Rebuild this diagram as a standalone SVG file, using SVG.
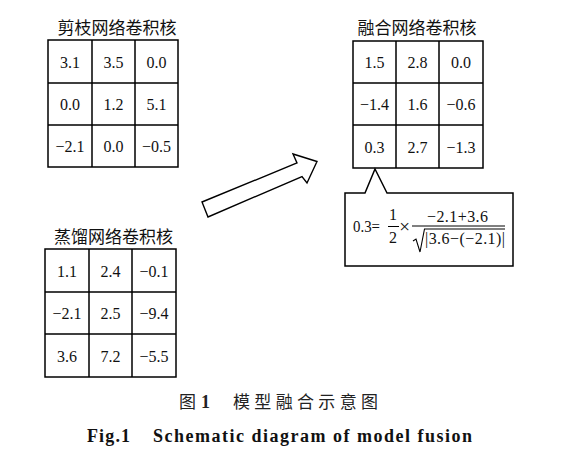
<svg xmlns="http://www.w3.org/2000/svg" width="563" height="459" viewBox="0 0 563 459">
<style>
.grid{fill:none;stroke:#000;stroke-width:1.5}
.num{font-family:"Liberation Serif","Times New Roman",serif;font-size:16px;fill:#111;text-anchor:middle}
.title{font-family:"Noto Sans CJK SC","Noto Sans CJK JP",sans-serif;font-size:17px;fill:#111;text-anchor:middle}
.f{font-family:"Liberation Serif","Times New Roman",serif;font-size:16px;fill:#111}
.cap{font-family:"Noto Sans CJK SC",sans-serif;font-size:17px;fill:#222}
.en{font-family:"Liberation Serif","Times New Roman",serif;font-size:18px;font-weight:bold;fill:#111}
</style>
<rect width="563" height="459" fill="#fff"/>
<g id="pruned">
<text class="title" x="117" y="34">剪枝网络卷积核</text>
<rect class="grid" x="48" y="40" width="130" height="127"/>
<path class="grid" d="M92,40V167M135,40V167M48,83H178M48,125H178"/>
<text class="num" x="70" y="67.5">3.1</text><text class="num" x="113.5" y="67.5">3.5</text><text class="num" x="156.5" y="67.5">0.0</text>
<text class="num" x="70" y="110">0.0</text><text class="num" x="113.5" y="110">1.2</text><text class="num" x="156.5" y="110">5.1</text>
<text class="num" x="70" y="152">−2.1</text><text class="num" x="113.5" y="152">0.0</text><text class="num" x="156.5" y="152">−0.5</text>
</g>
<g id="fused">
<text class="title" x="417" y="34">融合网络卷积核</text>
<rect class="grid" x="353" y="41" width="130" height="127"/>
<path class="grid" d="M396,41V168M439,41V168M353,83H483M353,125H483"/>
<text class="num" x="374.5" y="68">1.5</text><text class="num" x="417.5" y="68">2.8</text><text class="num" x="461" y="68">0.0</text>
<text class="num" x="374.5" y="110">−1.4</text><text class="num" x="417.5" y="110">1.6</text><text class="num" x="461" y="110">−0.6</text>
<text class="num" x="374.5" y="152.5">0.3</text><text class="num" x="417.5" y="152.5">2.7</text><text class="num" x="461" y="152.5">−1.3</text>
</g>
<g id="distilled">
<text class="title" x="113.5" y="243">蒸馏网络卷积核</text>
<rect class="grid" x="45" y="249" width="131" height="128"/>
<path class="grid" d="M89,249V377M132,249V377M45,292H176M45,334H176"/>
<text class="num" x="67" y="276.5">1.1</text><text class="num" x="110.5" y="276.5">2.4</text><text class="num" x="154" y="276.5">−0.1</text>
<text class="num" x="67" y="319">−2.1</text><text class="num" x="110.5" y="319">2.5</text><text class="num" x="154" y="319">−9.4</text>
<text class="num" x="67" y="361.5">3.6</text><text class="num" x="110.5" y="361.5">7.2</text><text class="num" x="154" y="361.5">−5.5</text>
</g>
<g id="connectors">
<polygon points="202,202 297,163 293,154 317,161.5 307,183 302,176.5 208,217" fill="#fff" stroke="#000" stroke-width="1.4" stroke-linejoin="miter"/>
</g>
<g id="callout">
<path d="M387,193 L375,169 L365,193 L345,193 L345,266 L513,266 L513,193 Z" fill="#fff" stroke="#000" stroke-width="1.5"/>
<text class="f" x="353" y="232" textLength="27" lengthAdjust="spacingAndGlyphs">0.3=</text>
<text class="f" x="393" y="220" text-anchor="middle">1</text>
<line x1="388" y1="226.5" x2="399" y2="226.5" stroke="#000" stroke-width="1"/>
<text class="f" x="393" y="242.5" text-anchor="middle">2</text>
<text class="f" x="404.5" y="233" text-anchor="middle" style="font-size:19px">×</text>
<text class="f" x="427" y="221.5" textLength="61" lengthAdjust="spacing">−2.1+3.6</text>
<line x1="412" y1="226" x2="505" y2="226" stroke="#000" stroke-width="1"/>
<path d="M413,241 L416,239 L420,252 L424.5,229 L505,229" fill="none" stroke="#000" stroke-width="1.1"/>
<text class="f" x="425" y="244" textLength="80" lengthAdjust="spacing">|3.6−(−2.1)|</text>
</g>
<text class="cap" x="179" y="408">图</text>
<text class="cap" x="201" y="408" style="font-family:'Liberation Serif',serif;font-weight:bold;font-size:18px">1</text>
<text class="cap" x="233" y="408" textLength="145" lengthAdjust="spacing">模型融合示意图</text>
<text class="en" x="87" y="442" textLength="43" lengthAdjust="spacing">Fig.1</text>
<text class="en" x="153" y="442" textLength="319" lengthAdjust="spacing">Schematic diagram of model fusion</text>
</svg>
